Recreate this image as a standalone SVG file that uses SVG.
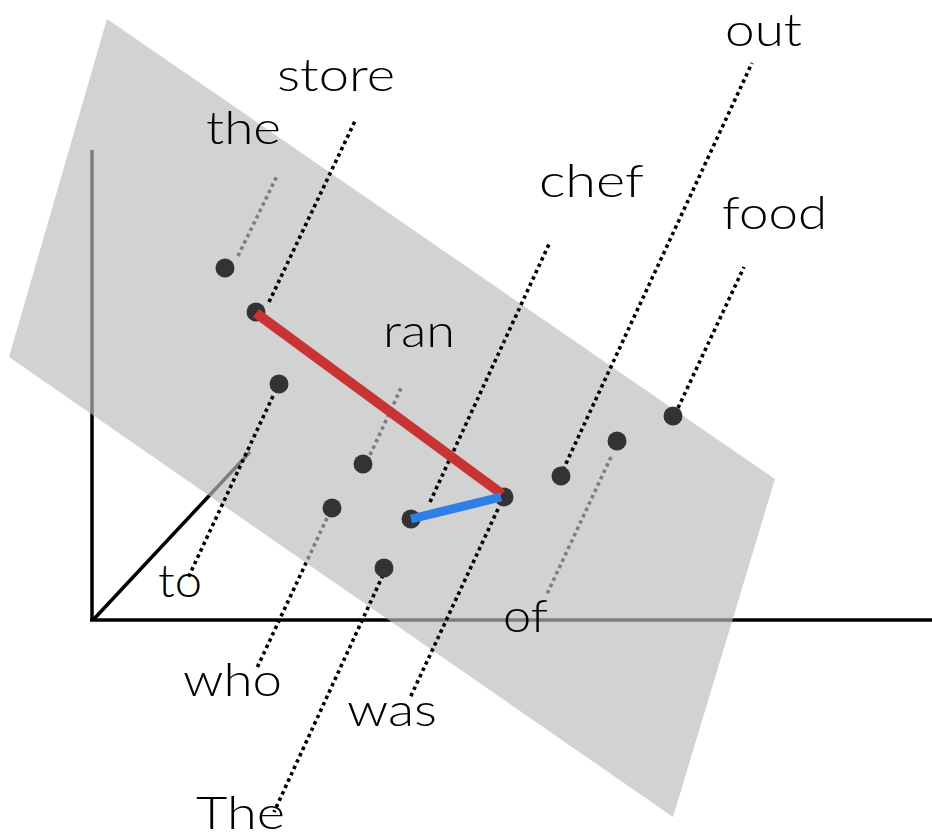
<svg xmlns="http://www.w3.org/2000/svg" width="932" height="838" viewBox="0 0 932 838">
<style>
.axis{stroke:#000;stroke-width:3.5;fill:none}
.dot{stroke:#000;stroke-width:3.6;stroke-dasharray:3.5 3.5;fill:none}
.pt{fill:#333}
.lbl{font-family:Lato,"Open Sans","Liberation Sans",sans-serif;font-weight:300;font-size:46px;fill:#000}
</style>
<rect width="932" height="838" fill="#fff"/>
<g id="axes">
<line class="axis" x1="92" y1="150" x2="92" y2="621"/>
<line class="axis" x1="90" y1="620" x2="932" y2="620"/>
<line class="axis" x1="93" y1="620" x2="250" y2="452"/>
</g>
<g id="connectors-behind">
<line class="dot" x1="238" y1="256" x2="277" y2="176"/>
<line class="dot" x1="370" y1="455" x2="402" y2="386"/>
<line class="dot" x1="327" y1="518" x2="256" y2="670"/>
<line class="dot" x1="611" y1="457" x2="547" y2="594"/>
</g>
<g id="plane">
<polygon points="107,19 9,357 673,817 775,479" fill="#bcbcbc" fill-opacity="0.67"/>
</g>
<g id="connectors">
<line class="dot" x1="269" y1="302" x2="355" y2="121"/>
<line class="dot" x1="273" y1="396" x2="188" y2="578"/>
<line class="dot" x1="383" y1="575" x2="274" y2="812"/>
<line class="dot" x1="498" y1="509" x2="410" y2="698"/>
<line class="dot" x1="430" y1="502" x2="550" y2="242"/>
<line class="dot" x1="563" y1="470" x2="752" y2="63"/>
<line class="dot" x1="678" y1="408" x2="744" y2="267"/>
</g>
<g id="nodes">
<circle id="n-the" class="pt" cx="225" cy="268" r="9.5"/>
<circle id="n-store" class="pt" cx="256" cy="312" r="9.5"/>
<circle id="n-to" class="pt" cx="279" cy="384" r="9.5"/>
<circle id="n-ran" class="pt" cx="363" cy="464" r="9.5"/>
<circle id="n-who" class="pt" cx="332" cy="508" r="9.5"/>
<circle id="n-chef" class="pt" cx="411" cy="519" r="9.5"/>
<circle id="n-The" class="pt" cx="384" cy="568" r="9.5"/>
<circle id="n-was" class="pt" cx="504" cy="497" r="9.5"/>
<circle id="n-out" class="pt" cx="561" cy="476" r="9.5"/>
<circle id="n-of" class="pt" cx="617" cy="441" r="9.5"/>
<circle id="n-food" class="pt" cx="673" cy="416" r="9.5"/>
</g>
<g id="vectors">
<line x1="256" y1="313" x2="502" y2="494" stroke="#c83434" stroke-width="10"/>
<line x1="411" y1="519" x2="501" y2="497" stroke="#2e80e8" stroke-width="9"/>
</g>
<g id="labels">
<text class="lbl" x="277" y="91" textLength="118" lengthAdjust="spacingAndGlyphs">store</text>
<text class="lbl" x="206" y="144" textLength="75" lengthAdjust="spacingAndGlyphs">the</text>
<text class="lbl" x="725" y="46" textLength="77" lengthAdjust="spacingAndGlyphs">out</text>
<text class="lbl" x="539" y="197" textLength="105" lengthAdjust="spacingAndGlyphs">chef</text>
<text class="lbl" x="722" y="229" textLength="105" lengthAdjust="spacingAndGlyphs">food</text>
<text class="lbl" x="383" y="347" textLength="72" lengthAdjust="spacingAndGlyphs">ran</text>
<text class="lbl" x="158" y="597" textLength="44" lengthAdjust="spacingAndGlyphs">to</text>
<text class="lbl" x="183" y="696" textLength="99" lengthAdjust="spacingAndGlyphs">who</text>
<text class="lbl" x="347" y="726" textLength="90" lengthAdjust="spacingAndGlyphs">was</text>
<text class="lbl" x="196" y="829" textLength="89" lengthAdjust="spacingAndGlyphs">The</text>
<text class="lbl" x="503" y="632" textLength="45" lengthAdjust="spacingAndGlyphs">of</text>
</g>
</svg>
